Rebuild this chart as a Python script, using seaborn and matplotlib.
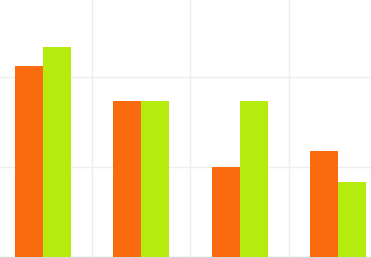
import matplotlib
matplotlib.use("Agg")
import matplotlib.pyplot as plt
import seaborn as sns
import pandas as pd

categories = ["A", "B", "C", "D"]
series_names = ["Series 1", "Series 2"]
series1 = [63.7, 52, 30, 35.3]
series2 = [70, 52, 52, 25]
colors = ["#FA6A0F", "#B5EC0E"]

rows = []
for c, v1, v2 in zip(categories, series1, series2):
    rows.append({"cat": c, "series": series_names[0], "value": v1})
    rows.append({"cat": c, "series": series_names[1], "value": v2})
df = pd.DataFrame(rows)

sns.set_style("white")
fig = plt.figure(figsize=(3.71, 2.58), dpi=100)
ax = fig.add_axes([0, 1 / 258, 1, 257 / 258])

sns.barplot(data=df, x="cat", y="value", hue="series", order=categories,
            hue_order=series_names, palette=colors, width=0.57, gap=0,
            linewidth=0, saturation=1, ax=ax, legend=False, zorder=3)

ax.set_xlim(-43 / 98.33, (371 - 43) / 98.33)
ax.set_ylim(0, 257 / 90 * 30)
for y in [30, 60]:
    ax.axhline(y, color="#eeeeee", lw=1, zorder=1)
for x in [0.5, 1.5, 2.5]:
    ax.axvline(x, color="#eeeeee", lw=1, zorder=1)

for s in ["top", "right", "left"]:
    ax.spines[s].set_visible(False)
ax.spines["bottom"].set_color("#d6d6d6")
ax.spines["bottom"].set_linewidth(1.0)
ax.set_xticks([])
ax.set_yticks([])
ax.set_xlabel("")
ax.set_ylabel("")

fig.savefig("out.png", dpi=100)
